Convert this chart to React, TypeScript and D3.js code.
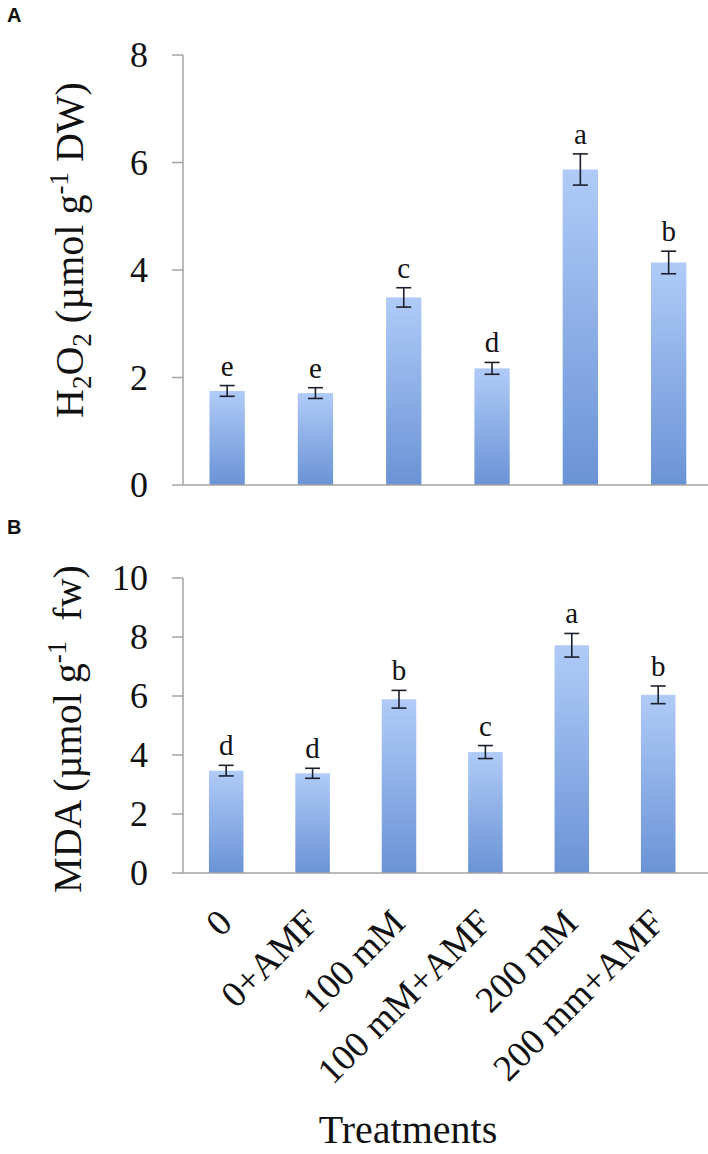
import React from "react";
import * as d3 from "d3";

const categories = ["0", "0+AMF", "100 mM", "100 mM+AMF", "200 mM", "200 mm+AMF"];
const h2o2Values = [1.75, 1.71, 3.49, 2.17, 5.87, 4.14];
const h2o2Errors = [0.1, 0.1, 0.18, 0.11, 0.29, 0.21];
const h2o2Letters = ["e", "e", "c", "d", "a", "b"];
const h2o2Ticks = [0, 2, 4, 6, 8];
const mdaValues = [3.47, 3.38, 5.89, 4.1, 7.72, 6.04];
const mdaErrors = [0.18, 0.17, 0.3, 0.22, 0.4, 0.3];
const mdaLetters = ["d", "d", "b", "c", "a", "b"];
const mdaTicks = [0, 2, 4, 6, 8, 10];

const SERIF = "'Liberation Serif', 'Times New Roman', serif";
const SANS = "'Liberation Sans', Arial, sans-serif";
const AXIS = "#a3a3a3";
const ERR = "#1c1f2e";

type PanelProps = {
  values: number[];
  errors: number[];
  letters: string[];
  ticks: number[];
  yMax: number;
  top: number;
  bottom: number;
  left: number;
  step: number;
  gradId: string;
};

function Panel({ values, errors, letters, ticks, yMax, top, bottom, left, step, gradId }: PanelProps) {
  const y = d3.scaleLinear().domain([0, yMax]).range([bottom, top]);
  const x = d3
    .scaleBand<string>()
    .domain(categories)
    .range([left, left + step * categories.length])
    .paddingInner(0.6)
    .paddingOuter(0.3);
  const bw = x.bandwidth();
  return (
    <g>
      {categories.map((c, i) => {
        const x0 = x(c) as number;
        const cx = x0 + bw / 2;
        const v = values[i];
        const e = errors[i];
        return (
          <g key={c}>
            <rect x={x0} y={y(v)} width={bw} height={y(0) - y(v)} fill={`url(#${gradId})`} />
            <line x1={cx} x2={cx} y1={y(v + e)} y2={y(v - e)} stroke={ERR} strokeWidth={1.6} />
            <line x1={cx - 7.5} x2={cx + 7.5} y1={y(v + e)} y2={y(v + e)} stroke={ERR} strokeWidth={1.6} />
            <line x1={cx - 7.5} x2={cx + 7.5} y1={y(v - e)} y2={y(v - e)} stroke={ERR} strokeWidth={1.6} />
            <text x={cx} y={y(v + e) - 10} textAnchor="middle" fontFamily={SERIF} fontSize={29} fill="#111">
              {letters[i]}
            </text>
          </g>
        );
      })}
      <line x1={left} x2={708} y1={y(0)} y2={y(0)} stroke={AXIS} strokeWidth={1.5} />
      <line x1={left} x2={left} y1={y(yMax)} y2={y(0)} stroke={AXIS} strokeWidth={1.5} />
      {ticks.map((t) => (
        <g key={t}>
          <line x1={left - 11} x2={left} y1={y(t)} y2={y(t)} stroke={AXIS} strokeWidth={1.5} />
          <text
            x={left - 35}
            y={y(t)}
            dy="0.34em"
            textAnchor="end"
            fontFamily={SERIF}
            fontSize={36}
            fill="#111"
          >
            {t}
          </text>
        </g>
      ))}
    </g>
  );
}

export default function App() {
  const bottomStep = 86.4;
  const xb = d3
    .scaleBand<string>()
    .domain(categories)
    .range([183, 183 + bottomStep * categories.length])
    .paddingInner(0.6)
    .paddingOuter(0.3);
  return (
    <svg
      width={708}
      height={1154}
      style={{ position: "absolute", left: 0, top: 0, background: "#fff" }}
    >
      <defs>
        <linearGradient id="barGrad" x1="0" y1="0" x2="0" y2="1">
          <stop offset="0%" stopColor="#b0cbf7" />
          <stop offset="100%" stopColor="#6a93d6" />
        </linearGradient>
      </defs>
      <rect x={0} y={0} width={708} height={1154} fill="#fff" />
      <text x={7} y={22} fontFamily={SANS} fontWeight="bold" fontSize={20} fill="#111">A</text>
      <text x={7} y={534} fontFamily={SANS} fontWeight="bold" fontSize={20} fill="#111">B</text>

      <Panel
        values={h2o2Values}
        errors={h2o2Errors}
        letters={h2o2Letters}
        ticks={h2o2Ticks}
        yMax={8}
        top={55}
        bottom={485}
        left={183}
        step={88.3}
        gradId="barGrad"
      />
      <Panel
        values={mdaValues}
        errors={mdaErrors}
        letters={mdaLetters}
        ticks={mdaTicks}
        yMax={10}
        top={578}
        bottom={873}
        left={183}
        step={bottomStep}
        gradId="barGrad"
      />

      {/* Y axis titles */}
      <text
        transform="translate(83,250) rotate(-90)"
        textAnchor="middle"
        fontFamily={SERIF}
        fontSize={40}
        fill="#111"
      >
        H<tspan fontSize={27} dy={8}>2</tspan>
        <tspan dy={-8}>O</tspan>
        <tspan fontSize={27} dy={8}>2</tspan>
        <tspan dy={-8}> (µmol g</tspan>
        <tspan fontSize={27} dy={-15}>-1</tspan>
        <tspan dy={15}> DW)</tspan>
      </text>
      <text
        transform="translate(81,729) rotate(-90)"
        textAnchor="middle"
        fontFamily={SERIF}
        fontSize={40}
        fill="#111"
        style={{ whiteSpace: "pre" }}
      >
        MDA (µmol g<tspan fontSize={27} dy={-15}>-1</tspan>
        <tspan dy={15}>{"  fw)"}</tspan>
      </text>

      {/* X tick labels */}
      {categories.map((c) => {
        const cx = (xb(c) as number) + xb.bandwidth() / 2;
        return (
          <text
            key={c}
            transform={`translate(${cx + 8},${925}) rotate(-45)`}
            textAnchor="end"
            fontFamily={SERIF}
            fontSize={37}
            fill="#111"
          >
            {c}
          </text>
        );
      })}
      <text x={408} y={1143} textAnchor="middle" fontFamily={SERIF} fontSize={40} fill="#111">
        Treatments
      </text>
    </svg>
  );
}
